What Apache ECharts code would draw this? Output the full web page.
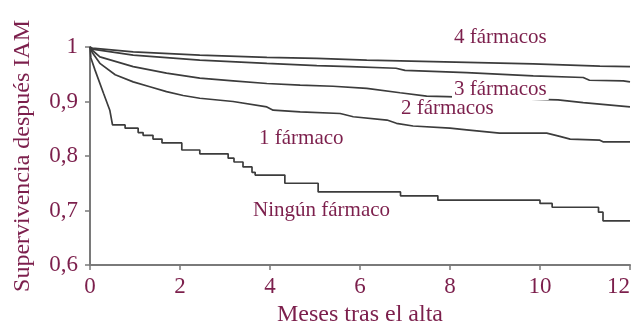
<!DOCTYPE html>
<html><head><meta charset="utf-8">
<script src="https://cdn.jsdelivr.net/npm/echarts@6/dist/echarts.min.js"></script>
<style>html,body{margin:0;padding:0;background:#fff}#c{width:637px;height:326px}</style>
</head><body><div id="c"></div>
<script>
// Data: months after discharge (x) and survival (y)
const ningunX = [0,0.02,0.11,0.3,0.44,0.5,0.78,1.07,1.18,1.4,1.6,2.04,2.44,3.07,3.2,3.4,3.6,3.67,4.33,5.07,6.9,7.73,10.0,10.27,11.3,11.4,12];
const ningunY = [1.0,0.98,0.958,0.915,0.884,0.857,0.851,0.843,0.838,0.831,0.824,0.811,0.804,0.796,0.789,0.78,0.77,0.765,0.75,0.734,0.727,0.719,0.713,0.706,0.697,0.681,0.681];
const unoX = [0,0.05,0.22,0.56,0.96,1.33,1.7,2.07,2.44,3.18,3.93,4.07,4.67,5.56,5.85,6.6,6.81,7.18,8.0,8.37,9.1,10.15,10.44,10.67,11.33,11.4,12];
const unoY = [1.0,0.99,0.970,0.949,0.936,0.927,0.918,0.911,0.906,0.900,0.890,0.884,0.881,0.878,0.872,0.866,0.860,0.855,0.851,0.848,0.842,0.842,0.836,0.831,0.829,0.826,0.826];
const dosX = [0,0.05,0.22,0.96,1.7,2.44,3.18,3.93,4.67,5.4,6.15,6.89,7.48,7.93,9.0,10.4,10.96,12];
const dosY = [1.0,0.994,0.982,0.964,0.952,0.943,0.938,0.933,0.930,0.928,0.924,0.916,0.910,0.909,0.906,0.903,0.898,0.890];
const tresX = [0,0.05,0.96,2.44,3.93,5.04,5.78,6.8,7.0,8.37,9.85,10.96,11.1,11.85,12];
const tresY = [1.0,0.996,0.985,0.976,0.970,0.966,0.964,0.961,0.957,0.953,0.947,0.944,0.939,0.938,0.936];
const cuatroX = [0,0.05,0.96,2.44,3.93,5.04,6.15,7.63,9.85,11.33,12];
const cuatroY = [1.0,0.998,0.991,0.985,0.981,0.979,0.976,0.973,0.969,0.965,0.964];
const seriesNames = ['Ningún fármaco','1 fármaco','2 fármacos','3 fármacos','4 fármacos'];
const xTicks = [0,2,4,6,8,10,12];
const yTicks = [0.6,0.7,0.8,0.9,1];

const toPairs = (xs, ys) => xs.map((x, i) => [x, ys[i]]);
// Kaplan-Meier style: steep early part drawn directly, later events as steps
const toSteps = (xs, ys, from) => {
  const out = [];
  xs.forEach((x, i) => {
    if (x <= from || i === 0) out.push([x, ys[i]]);
    else { out.push([x, ys[i - 1]]); out.push([x, ys[i]]); }
  });
  return out;
};
const allData = [toSteps(ningunX, ningunY, 0.5), toPairs(unoX, unoY), toPairs(dosX, dosY), toPairs(tresX, tresY), toPairs(cuatroX, cuatroY)];

const TXT = '#7c1f4c';
const FONT = '"Liberation Serif", "DejaVu Serif", serif';
const chart = echarts.init(document.getElementById('c'), null, {renderer: 'canvas'});

const series = allData.map((d, i) => ({
  name: seriesNames[i], type: 'line', data: d, symbol: 'none',
  lineStyle: {color: '#3c3c3c', width: 1.7}, z: 2, silent: true
}));

const labelPos = [
  {name: 'Ningún fármaco', x: 251, y: 212},
  {name: '1 fármaco', x: 257, y: 140},
  {name: '2 fármacos', x: 399, y: 110},
  {name: '3 fármacos', x: 452, y: 91},
  {name: '4 fármacos', x: 452, y: 39}
];

chart.setOption({
  animation: false,
  backgroundColor: '#fff',
  grid: {left: 90, right: 7, top: 47, bottom: 61, containLabel: false, outerBoundsMode: 'none'},
  xAxis: {
    type: 'value', min: 0, max: 12, interval: 2,
    name: 'Meses tras el alta', nameLocation: 'middle', nameGap: 37,
    nameTextStyle: {color: TXT, fontFamily: FONT, fontSize: 24},
    axisLine: {show: true, lineStyle: {color: '#7a7a7a', width: 2}},
    axisTick: {show: true, length: 5, lineStyle: {color: '#7a7a7a', width: 1.5}},
    axisLabel: {color: TXT, fontFamily: FONT, fontSize: 23, margin: 10, alignMaxLabel: 'right'},
    splitLine: {show: false}
  },
  yAxis: {
    type: 'value', min: 0.6, max: 1, interval: 0.1,
    name: 'Supervivencia después IAM', nameLocation: 'middle', nameGap: 55,
    nameTextStyle: {color: TXT, fontFamily: FONT, fontSize: 24},
    axisLine: {show: true, lineStyle: {color: '#7a7a7a', width: 2}},
    axisTick: {show: true, length: 5, lineStyle: {color: '#7a7a7a', width: 1.5}},
    axisLabel: {color: TXT, fontFamily: FONT, fontSize: 23, margin: 12,
      formatter: v => (Math.abs(v - 1) < 1e-9 ? '1' : v.toFixed(1).replace('.', ','))},
    splitLine: {show: false}
  },
  series: series,
  graphic: labelPos.map(l => ({
    type: 'text', left: l.x, top: l.y - 12, z: 10,
    style: {text: l.name, fill: TXT, font: '21px ' + FONT, backgroundColor: '#fff', padding: [0, 2]}
  }))
});
</script>
</body></html>
